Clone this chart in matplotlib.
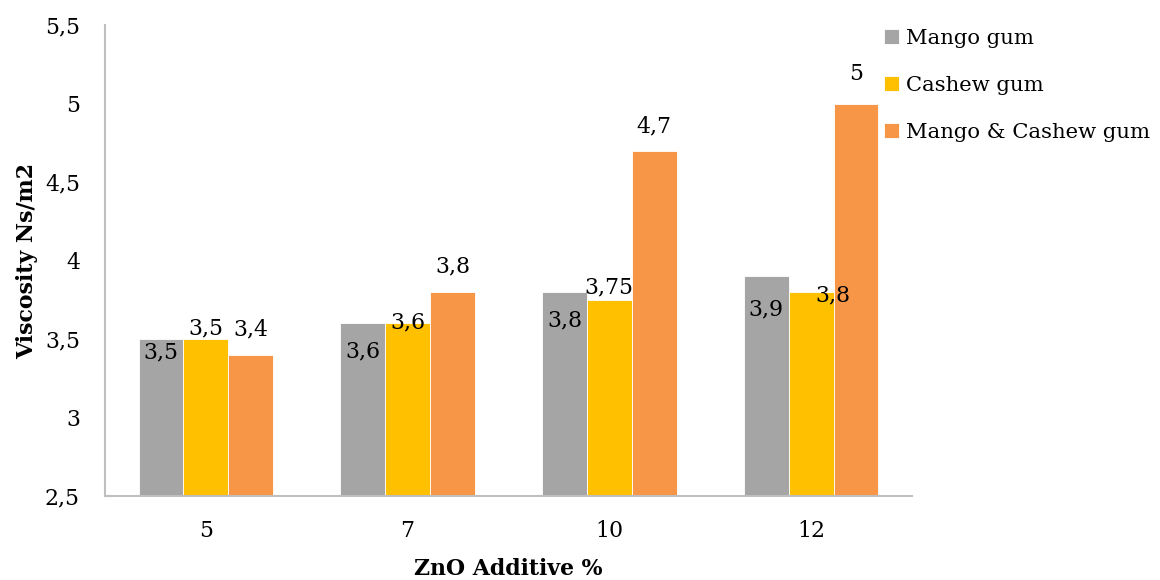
import numpy as np
import matplotlib
matplotlib.use("Agg")
import matplotlib.pyplot as plt
from matplotlib.ticker import FuncFormatter

# Data
additive = ["5", "7", "10", "12"]
mango = [3.5, 3.6, 3.8, 3.9]
cashew = [3.5, 3.6, 3.75, 3.8]
mango_cashew = [3.4, 3.8, 4.7, 5.0]
series_names = ["Mango gum", "Cashew gum", "Mango & Cashew gum"]
series_colors = ["#A5A5A5", "#FFC000", "#F79646"]

# Hand-placed data label offsets (pixels from bar top: dx, dy)
label_offsets = [
    [(0, -13), (0, -28), (0, -29), (0, -33)],
    [(0, 11), (0, 1), (0, 12), (22, -4)],
    [(0, 25), (0, 25), (0, 24), (0, 29)],
]

def comma(v):
    s = f"{v:g}"
    return s.replace(".", ",")

plt.rcParams["font.family"] = ["DejaVu Serif"]
fs = 15.8
legend_fs = 15.2

fig = plt.figure(figsize=(11.6, 5.8), dpi=100)
ax = fig.add_axes([105 / 1160, 1 - 496 / 580, (912 - 105) / 1160, (496 - 25) / 580])

x = np.arange(len(additive))
w = 0.222
values = [mango, cashew, mango_cashew]
handles = []
for i, (vals, name, col) in enumerate(zip(values, series_names, series_colors)):
    pos = x + (i - 1) * w
    bars = ax.bar(pos, np.array(vals) - 2.5, width=w, bottom=2.5, color=col,
                  edgecolor="white", linewidth=0.6, label=name)
    handles.append(bars)
    for j, (px, v) in enumerate(zip(pos, vals)):
        dx, dy = label_offsets[i][j]
        ax.annotate(comma(v), xy=(px, v), xytext=(dx, dy),
                    textcoords="offset pixels", ha="center", va="center",
                    fontsize=fs, color="#000000")

ax.set_xlim(-0.5, len(additive) - 0.5)
ax.set_ylim(2.5, 5.5)
ax.set_yticks(np.arange(2.5, 5.51, 0.5))
ax.yaxis.set_major_formatter(FuncFormatter(lambda v, p: comma(round(v, 2))))
ax.set_xticks(x)
ax.set_xticklabels(additive)
ax.tick_params(axis="both", length=0, labelsize=fs)
ax.tick_params(axis="y", pad=18)
ax.tick_params(axis="x", pad=17)

for s in ["top", "right"]:
    ax.spines[s].set_visible(False)
for s in ["left", "bottom"]:
    ax.spines[s].set_color("#BFBFBF")
    ax.spines[s].set_linewidth(1.5)

ax.set_xlabel("ZnO Additive %", fontsize=fs, fontweight="bold", labelpad=12)
ax.set_ylabel("Viscosity Ns/m2", fontsize=fs, fontweight="bold", labelpad=5)

fig.legend(handles=handles, labels=series_names, loc="upper left",
           bbox_to_anchor=(884 / 1160, 1 - 29 / 580), frameon=False,
           fontsize=legend_fs, handlelength=0.72, handleheight=0.72,
           handletextpad=0.33, labelspacing=1.32, borderaxespad=0, borderpad=0)

fig.savefig("out.png", dpi=100, facecolor="white")
